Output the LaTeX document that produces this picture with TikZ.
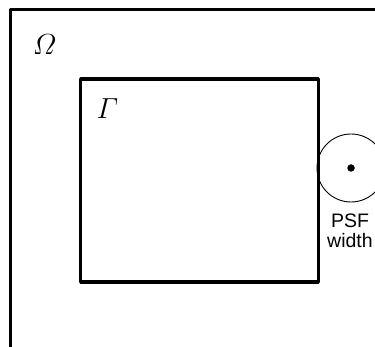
\RequirePackage{fix-cm}
\documentclass[tikz,border=0pt]{standalone}
\usepackage{amsmath}
\usepackage{fontspec}
\setsansfont{Liberation Sans}
\begin{document}
\begin{tikzpicture}[x=1pt,y=-1pt,
  region/.style={draw=black,line width=3.2pt,line join=round},
  psfcircle/.style={draw=black,line width=0.9pt,circle,minimum size=68pt,inner sep=0pt},
  psfdot/.style={fill=black,circle,minimum size=7.5pt,inner sep=0pt},
  mathlabel/.style={inner sep=0pt,font=\fontsize{29}{32}\selectfont},
  psflabel/.style={inner sep=0pt,align=center,font=\sffamily\fontsize{19.5}{20}\selectfont}]
\useasboundingbox (0,0) rectangle (375,347);
\clip (0,0) rectangle (375,347);
\draw[region] (10.5,9.5) rectangle (420,400);
\node[region,draw,inner sep=0pt,minimum width=237.7pt,minimum height=203pt,anchor=north west] (gamma) at (79,77.5) {};
\node[mathlabel] (omegalabel) at (44.5,45) {$\varOmega$};
\node[mathlabel] (gammalabel) at (107.5,109) {$\varGamma$};
\node[psfcircle] (psf) at (351,168) {};
\node[psfdot] (center) at (psf.center) {};
\node[psflabel] (psftext) at (350,230.5) {PSF\\width};
\end{tikzpicture}
\end{document}
